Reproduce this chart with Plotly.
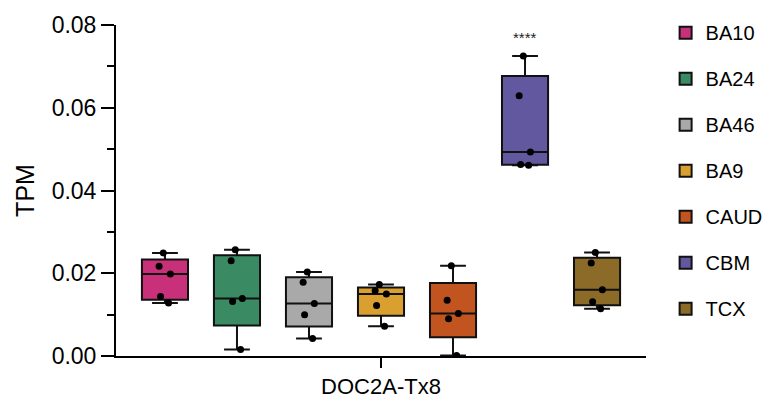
import plotly.graph_objects as go

regions = ["BA10", "BA24", "BA46", "BA9", "CAUD", "CBM", "TCX"]
colors = ["#c8307a", "#3a8a63", "#a9a9a9", "#d9a030", "#c1541f", "#6158a0", "#8c6a28"]

ba10 = [0.0249, 0.0217, 0.0198, 0.0144, 0.0128]
ba24 = [0.0257, 0.0230, 0.0139, 0.0132, 0.0016]
ba46 = [0.0203, 0.0178, 0.0127, 0.0100, 0.0042]
ba9 = [0.0173, 0.0158, 0.0150, 0.0122, 0.0072]
caud = [0.0218, 0.0135, 0.0103, 0.0090, 0.0001]
cbm = [0.0725, 0.0629, 0.0493, 0.0463, 0.0461]
tcx = [0.0250, 0.0225, 0.0160, 0.0131, 0.0114]
series = [ba10, ba24, ba46, ba9, caud, cbm, tcx]

gene = "DOC2A-Tx8"
signif_label = "****"
signif_region = "CBM"

FONT = "Liberation Sans, Arial, Helvetica, sans-serif"

fig = go.Figure()
for i, (name, vals, col) in enumerate(zip(regions, series, colors)):
    fig.add_trace(go.Box(
        x=[i] * len(vals), y=vals, name=name, legendgroup=name,
        fillcolor=col, line=dict(color="#111111", width=2),
        boxpoints="all", jitter=0.3, pointpos=0,
        marker=dict(color="black", size=7),
        quartilemethod="exclusive", width=0.64, whiskerwidth=0.56,
        hoverinfo="y",
    ))

ci = regions.index(signif_region)
fig.add_annotation(x=ci, y=max(cbm) + 0.0045, xref="x", yref="y",
                   text=signif_label, showarrow=False,
                   font=dict(size=15, color="#222", family=FONT))

fig.update_layout(
    width=765, height=395,
    margin=dict(l=108, r=127, t=17, b=46.5, autoexpand=False),
    paper_bgcolor="white", plot_bgcolor="white",
    font=dict(family=FONT, color="black"),
    showlegend=True,
    legend=dict(x=1.037, y=0.56, xanchor="left", yanchor="middle",
                font=dict(size=20, family=FONT), tracegroupgap=17,
                itemwidth=30),
)
fig.update_xaxes(
    range=[-0.68, 6.68], tickvals=[3], ticktext=[gene],
    showline=True, linecolor="black", linewidth=2,
    ticks="outside", ticklen=10, tickwidth=2, tickcolor="black",
    showgrid=False, zeroline=False, tickfont=dict(size=22),
)
fig.update_yaxes(
    range=[0, 0.08], dtick=0.02, tickformat=".2f",
    showline=True, linecolor="black", linewidth=2,
    ticks="outside", ticklen=13, tickwidth=2, tickcolor="black",
    minor=dict(dtick=0.01, ticks="outside", ticklen=7, tickwidth=2, tickcolor="black"),
    showgrid=False, zeroline=False, tickfont=dict(size=23),
    title=dict(text="TPM", font=dict(size=25), standoff=10),
)

fig.write_html("out.html")
